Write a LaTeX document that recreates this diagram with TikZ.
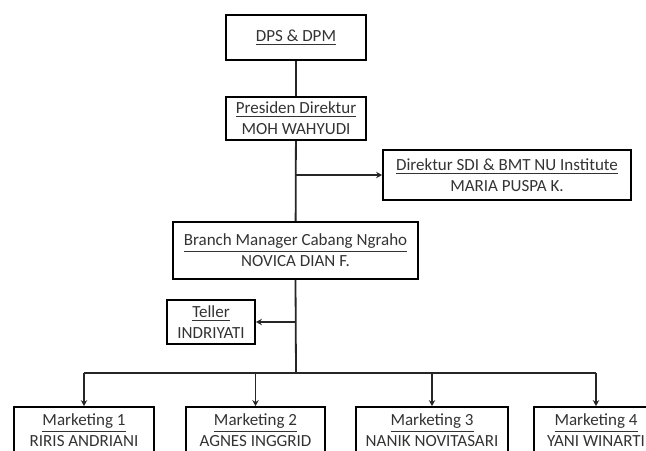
\documentclass[tikz,border=0pt]{standalone}
\usepackage{fontspec}
\setmainfont{Carlito}
\usepackage{tikz}
\usetikzlibrary{arrows.meta, positioning}

\tikzset{
  jabatan/.style={draw, line width=0.9pt, align=center, inner sep=0pt,
    text=black!80, font=\fontsize{8.5}{10.5}\selectfont},
  garis/.style={line width=0.9pt, black!85},
  panah/.style={garis, -{Stealth[length=3pt, width=3.2pt]}}
}

\begin{document}
\begin{tikzpicture}[x=0.5pt, y=-0.5pt]
  \useasboundingbox (0,0) rectangle (646,450);
  \clip (0,0) rectangle (646,450);
  \node[jabatan, minimum width=70pt, minimum height=22.5pt] (dps) at (296,37.5) {\underline{DPS \& DPM}};
  \node[jabatan, minimum width=70pt, minimum height=21.5pt] (presdir) at (296,118.5) {\underline{Presiden Direktur}\\MOH WAHYUDI};
  \node[jabatan, minimum width=124pt, minimum height=25pt] (sdi) at (507,175) {\underline{Direktur SDI \& BMT NU Institute}\\MARIA PUSPA K.};
  \node[jabatan, minimum width=122.5pt, minimum height=28.5pt] (bm) at (295.5,250.5) {\underline{Branch Manager Cabang Ngraho}\\NOVICA DIAN F.};
  \node[jabatan, minimum width=44pt, minimum height=22pt] (teller) at (211,322) {\underline{Teller}\\INDRIYATI};
  \node[jabatan, minimum width=70pt, minimum height=23pt] (mk1) at (84,430) {\underline{Marketing 1}\\RIRIS ANDRIANI};
  \node[jabatan, minimum width=69.5pt, minimum height=23pt] (mk2) at (255.5,430) {\underline{Marketing 2}\\AGNES INGGRID};
  \node[jabatan, minimum width=76pt, minimum height=23pt] (mk3) at (432,430) {\underline{Marketing 3}\\NANIK NOVITASARI};
  \node[jabatan, minimum width=62pt, minimum height=23pt] (mk4) at (596,430) {\underline{Marketing 4}\\YANI WINARTI};

  \coordinate (cabang) at (presdir.south |- sdi.west);
  \coordinate (bantu) at (bm.south |- teller.east);
  \coordinate (bus) at (296,373);

  \draw[garis] (dps) -- (presdir);
  \draw[garis] (presdir) -- (bm);
  \draw[panah] (cabang) -- (sdi.west);
  \draw[garis] (bm.south) -- (bus);
  \draw[panah] (bantu) -- (teller.east);
  \draw[garis] (mk1.north |- bus) -- (mk4.north |- bus);
  \foreach \m in {mk1, mk2, mk3, mk4}
    \draw[panah] (\m.north |- bus) -- (\m.north);
\end{tikzpicture}
\end{document}
